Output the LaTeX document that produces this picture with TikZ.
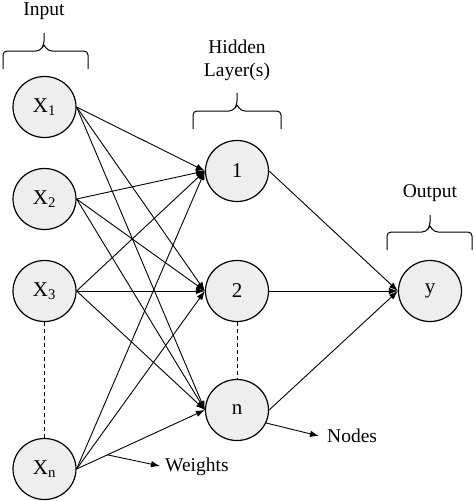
\documentclass[tikz,border=0pt]{standalone}
\usepackage{fontspec}
\setmainfont{Liberation Serif}
\usetikzlibrary{shapes.geometric,arrows.meta}
\begin{document}
\begin{tikzpicture}[x=1pt,y=-1pt,
  neuron/.style={ellipse,draw=black,line width=1.2pt,fill=gray!13,minimum width=63pt,minimum height=61pt,inner sep=0pt,font=\fontsize{21}{24}\selectfont},
  lbl/.style={font=\fontsize{19.5}{22}\selectfont,inner sep=0pt},
  arr/.style={line width=0.9pt,-{Latex[length=9pt,width=6.5pt]}},
  brc/.style={line width=1pt,rounded corners=4pt},
  dsh/.style={line width=0.9pt,dash pattern=on 4pt off 3pt}]
\useasboundingbox (0,0) rectangle (474,501);
% input layer
\node[neuron] (x1) at (44.5,107) {X\textsubscript{1}};
\node[neuron] (x2) at (44.5,199) {X\textsubscript{2}};
\node[neuron] (x3) at (44.5,291) {X\textsubscript{3}};
\node[neuron] (xn) at (44.5,469) {X\textsubscript{n}};
% hidden layer
\node[neuron] (h1) at (237,171) {1};
\node[neuron] (h2) at (237,291) {2};
\node[neuron] (hn) at (237,410) {n};
% output
\node[neuron] (y) at (430,291) {y};
% dashed
\draw[dsh] (x3.south) -- (xn.north);
\draw[dsh] (h2.south) -- (hn.north);
% connections
\foreach \i in {x1,x2,x3,xn}{
  \foreach \j in {h1,h2,hn}{
    \draw[arr] (\i.east) -- (\j.west);
  }
}
\foreach \j in {h1,h2,hn}{
  \draw[arr] (\j.east) -- (y.west);
}
% weights annotation
\path (xn.east) -- (hn.west) coordinate[pos=0.24] (wstart);
\coordinate (wend) at (160,466);
\draw[arr] (wstart) -- (wend);
\node[lbl,anchor=west] (wl) at (165,467) {Weights};
% nodes annotation
\coordinate (nend) at (319,436);
\draw[arr] (hn.-24) -- (nend);
\node[lbl,anchor=west] (nl) at (327,436) {Nodes};
% braces
\draw[brc] (3,69) -- (3,51) -- (40,51) -- (44,45) -- (44,33);
\draw[brc] (88,69) -- (88,51) -- (48,51) -- (44,45);
\draw[brc] (193,129) -- (193,111) -- (233,111) -- (237,105) -- (237,93);
\draw[brc] (281,129) -- (281,111) -- (241,111) -- (237,105);
\draw[brc] (387,250) -- (387,232) -- (426,232) -- (430,226) -- (430,215);
\draw[brc] (472,250) -- (472,232) -- (434,232) -- (430,226);
% labels
\node[lbl] (tin) at (44,11) {Input};
\node[lbl] (thid) at (237,47) {Hidden};
\node[lbl] (thid2) at (237,72) {Layer(s)};
\node[lbl] (tout) at (430,193) {Output};
\end{tikzpicture}
\end{document}
